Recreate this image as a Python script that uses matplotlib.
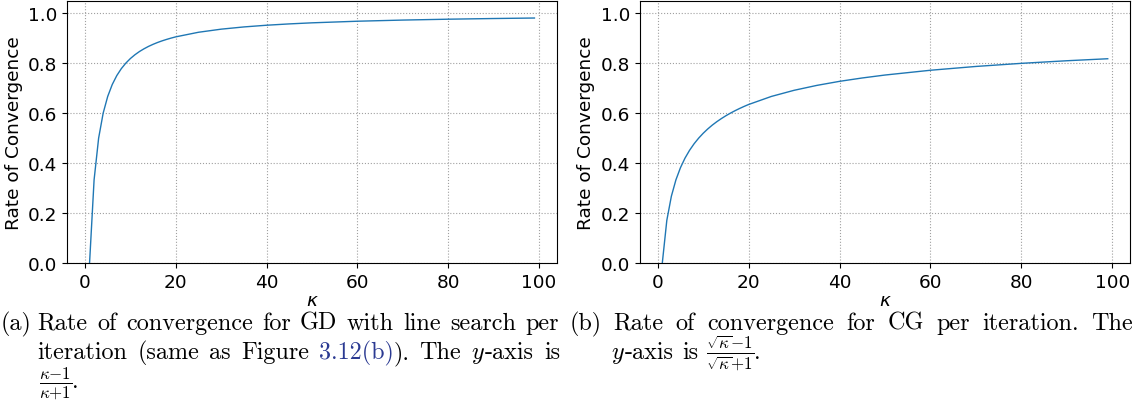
import matplotlib
matplotlib.use("Agg")
import matplotlib.pyplot as plt

# ---------------- data ----------------
kappa = [1, 2, 3, 4, 5, 6, 7, 8, 9, 10, 11, 12, 13, 14, 15, 16, 17, 18, 19, 20,
         25, 30, 35, 40, 45, 50, 60, 70, 80, 90, 99]
rate_gd = [0.0, 0.3333, 0.5, 0.6, 0.6667, 0.7143, 0.75, 0.7778, 0.8, 0.8182,
           0.8333, 0.8462, 0.8571, 0.8667, 0.875, 0.8824, 0.8889, 0.8947, 0.9, 0.9048,
           0.9231, 0.9355, 0.9444, 0.9512, 0.9565, 0.9608, 0.9672, 0.9718, 0.9753, 0.978, 0.98]
rate_cg = [0.0, 0.1716, 0.2679, 0.3333, 0.382, 0.4202, 0.4514, 0.4776, 0.5, 0.5195,
           0.5367, 0.5521, 0.5658, 0.5782, 0.5896, 0.6, 0.6096, 0.6185, 0.6268, 0.6345,
           0.6667, 0.6912, 0.7108, 0.727, 0.7405, 0.7522, 0.7713, 0.7865, 0.7989, 0.8093, 0.8173]
x_label = r"$\kappa$"
y_label = "Rate of Convergence"
y_ticks = [0.0, 0.2, 0.4, 0.6, 0.8, 1.0]
x_ticks = [0, 20, 40, 60, 80, 100]

W, H = 1136, 406
fig = plt.figure(figsize=(W / 100, H / 100), dpi=100)

TICK_FS = 13.3
LINE_COLOR = "#1f77b4"


def make_axes(left_px, right_px, top_px, bottom_px):
    return fig.add_axes([left_px / W, 1 - bottom_px / H,
                         (right_px - left_px) / W, (bottom_px - top_px) / H])


axes = [make_axes(67.3, 556.7, 1.5, 264.3), make_axes(640, 1130, 1.5, 264.3)]
for ax, y in zip(axes, [rate_gd, rate_cg]):
    ax.plot(kappa, y, color=LINE_COLOR, lw=1.0)
    ax.set_ylim(0, 1.05)
    ax.set_xticks(x_ticks)
    ax.set_yticks(y_ticks)
    ax.tick_params(labelsize=TICK_FS)
    ax.grid(True, linestyle=":", color="#a0a0a0", linewidth=0.8)
    ax.set_xlabel(x_label, fontsize=TICK_FS, labelpad=0)
    ax.set_ylabel(y_label, fontsize=TICK_FS)

# ---------------- captions ----------------
CAP_FS = 17.4
SERIF = "cmr10"
BLUE = "#2b3a92"
renderer = fig.canvas.get_renderer()


def txt(x, y, s, color="black", ha="left"):
    return fig.text(x / W, 1 - y / H, s, fontsize=CAP_FS, family=SERIF,
                    math_fontfamily="cm", color=color, va="baseline", ha=ha)


def width_of(s):
    t = txt(0, 0, s)
    w = t.get_window_extent(renderer).width
    t.remove()
    return w


def draw_line(x0, x1, y, words, justify=True):
    widths = [[width_of(s) for s, _ in w] for w in words]
    totals = [sum(ws) for ws in widths]
    if justify and len(words) > 1:
        gap = (x1 - x0 - sum(totals)) / (len(words) - 1)
    else:
        gap = width_of("a a") - width_of("aa")
    x = x0
    for w, ws in zip(words, widths):
        xx = x
        for (s, c), wd in zip(w, ws):
            txt(xx, y, s, c)
            xx += wd
        x = xx + gap


def simple(line):
    return [[(w, "black")] for w in line.split()]


# caption (a)
txt(1, 330, "(a)")
draw_line(37.7, 559, 330, simple("Rate of convergence for GD with line search per"))
draw_line(37.7, 560, 359,
          simple("iteration (same as Figure")
          + [[("3.12(b)", BLUE), (").", "black")]]
          + simple("The")
          + [[("$y$", "black"), ("-axis", "black")]]
          + simple("is"))
draw_line(39, 560, 388, [[(r"$\frac{\kappa{-}1}{\kappa{+}1}$", "black"), (".", "black")]],
          justify=False)

# caption (b)
txt(570, 330, "(b)")
draw_line(613, 1133, 330, simple("Rate of convergence for CG per iteration. The"))
draw_line(611, 1133, 359,
          [[("$y$", "black"), ("-axis", "black")]] + simple("is")
          + [[(r"$\frac{\sqrt{\kappa}{-}1}{\sqrt{\kappa}{+}1}$", "black"), (".", "black")]],
          justify=False)

fig.savefig("out.png", dpi=100)
